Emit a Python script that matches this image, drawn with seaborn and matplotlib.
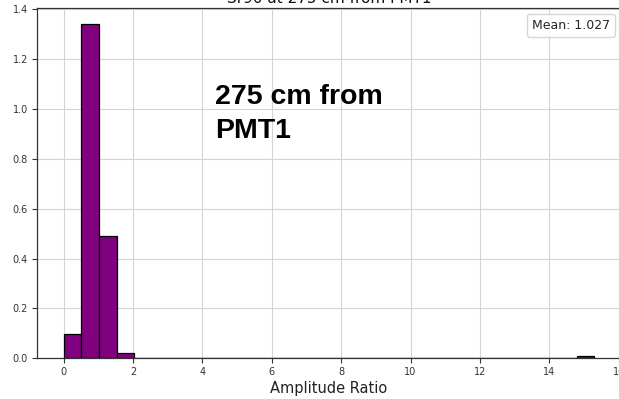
import numpy as np
import pandas as pd
import matplotlib
matplotlib.use("Agg")
import matplotlib.pyplot as plt
import seaborn as sns
from matplotlib.lines import Line2D

# ---- data ----
bin_lo = 0.0
bin_hi = 15.3
n_bins = 30
# counts per bin (30 bins of width 0.51 between 0 and 15.3)
bin_counts = [9, 123, 45, 2, 0, 0, 0, 0, 0, 0,
              0, 0, 0, 0, 0, 0, 0, 0, 0, 0,
              0, 0, 0, 0, 0, 0, 0, 0, 0, 1]
mean_value = 1.027
title_text = "Sr90 at 275 cm from PMT1"
xlabel_text = "Amplitude Ratio"
annot_text = "275 cm from\nPMT1"

edges = np.linspace(bin_lo, bin_hi, n_bins + 1)
centers = (edges[:-1] + edges[1:]) / 2
df = pd.DataFrame({"ratio": centers, "count": bin_counts})

sns.set_style("ticks")
plt.rcParams['font.family'] = ['DejaVu Sans']

W, H = 619, 399
fig = plt.figure(figsize=(W / 100, H / 100), dpi=100)
ax = fig.add_axes([37 / W, (H - 358.3) / H, (621 - 37) / W, (358.3 - 7.6) / H])

sns.histplot(data=df, x="ratio", weights="count", bins=list(edges), stat="density",
             color="purple", edgecolor="black", linewidth=0.9, alpha=1.0, ax=ax)

ax.grid(True, color="#d4d4d4", linewidth=0.8)
ax.set_axisbelow(True)
for s in ax.spines.values():
    s.set_color("#333333")
    s.set_linewidth(0.9)

ax.set_xticks(np.arange(0, 17, 2))
ax.set_yticks(np.arange(0, 1.41, 0.2))
ax.yaxis.set_major_formatter(matplotlib.ticker.FormatStrFormatter('%.1f'))
ax.tick_params(axis="both", which="major", bottom=True, left=True,
               direction="out", labelsize=7, length=3.5, width=0.8,
               color="#333333", labelcolor="#333333", pad=3)
ax.set_ylabel("")
ax.set_xlabel(xlabel_text, fontsize=10.5, labelpad=3, color="#222222")
ax.set_title(title_text, fontsize=11, pad=3, color="#111111")

h = Line2D([], [], linestyle="none")
ax.legend([h], [f"Mean: {mean_value:.3f}"], loc="upper right", fontsize=9,
          handlelength=0, handletextpad=0, borderpad=0.4,
          framealpha=0.8, edgecolor="#cccccc")

fig.text(215 / W, 1 - 84 / H, annot_text, fontsize=20.5, fontweight="bold",
         family=["Liberation Sans", "DejaVu Sans"], va="top", ha="left",
         linespacing=1.38, color="black")

fig.savefig("out.png", dpi=100)
